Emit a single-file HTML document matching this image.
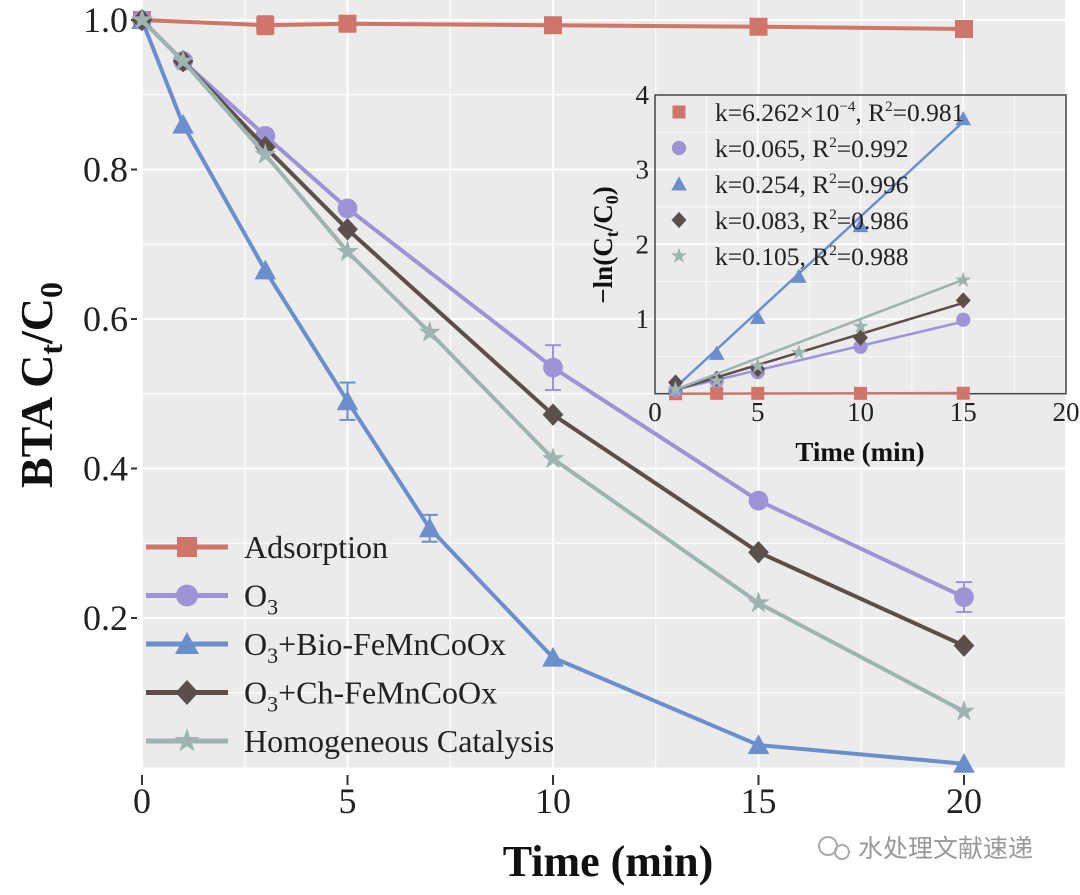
<!DOCTYPE html>
<html><head><meta charset="utf-8"><style>
html,body{margin:0;padding:0;background:#fff}
svg{display:block;font-family:"Liberation Serif",serif}
</style></head><body>
<svg id="c" width="1080" height="895" viewBox="0 0 1080 895" xmlns="http://www.w3.org/2000/svg"></svg>
<script>
// ---- main chart data ----
const mainSeriesNames = ["Adsorption","O3","O3+Bio-FeMnCoOx","O3+Ch-FeMnCoOx","Homogeneous Catalysis"];
const adsX = [0,3,5,10,15,20];
const adsY = [1.0,0.993,0.995,0.993,0.991,0.988];
const o3X = [0,1,3,5,10,15,20];
const o3Y = [1.0,0.945,0.845,0.748,0.535,0.357,0.228];
const bioX = [0,1,3,5,7,10,15,20];
const bioY = [1.0,0.86,0.665,0.49,0.32,0.147,0.03,0.005];
const chX = [0,1,3,5,10,15,20];
const chY = [1.0,0.945,0.83,0.72,0.472,0.288,0.163];
const homX = [0,1,3,5,7,10,15,20];
const homY = [1.0,0.945,0.82,0.69,0.582,0.413,0.22,0.075];
const errAds = [[3,0.993,0.012]];
const errO3 = [[10,0.535,0.03],[20,0.228,0.02]];
const errBio = [[5,0.49,0.025],[7,0.32,0.018]];
const xTicks = [0,5,10,15,20];
const yTicks = [0.2,0.4,0.6,0.8,1.0];
// ---- inset data ----
const inAdsX = [1,3,5,10,15];
const inAdsY = [0.0,0.005,0.005,0.005,0.006];
const inO3X = [1,3,5,10,15];
const inO3Y = [0.05,0.17,0.29,0.63,0.99];
const inBioX = [1,3,5,7,10,15];
const inBioY = [0.1,0.54,1.02,1.57,2.25,3.68];
const inChX = [1,3,5,10,15];
const inChY = [0.15,0.2,0.33,0.75,1.25];
const inHomX = [1,3,5,7,10,15];
const inHomY = [0.06,0.17,0.37,0.55,0.9,1.52];
const fitK = [0.0006262,0.065,0.254,0.083,0.105];
const fitB = [-0.0006,-0.01,-0.17,-0.03,-0.05];
const inXTicks = [0,5,10,15,20];
const inYTicks = [1,2,3,4];

const NS="http://www.w3.org/2000/svg";
const svg=document.getElementById('c');
function el(tag,attrs,parent){const e=document.createElementNS(NS,tag);for(const k in attrs)e.setAttribute(k,attrs[k]);(parent||svg).appendChild(e);return e;}
const colors=["#d0756a","#9d94d6","#6b8fcc","#5a4f4b","#9fb3b0"];
const markers=["square","circle","triangle","diamond","star"];

const X=v=>142+v*41.1;
const Y=v=>767.5-(v)*747.5;
const IX=v=>655+v*20.55;
const IY=v=>393.7-v*74.7;

function marker(g,type,cx,cy,s,color){
  let m;
  if(type==="square") m=el('rect',{x:cx-s,y:cy-s,width:2*s,height:2*s,fill:color},g);
  else if(type==="circle") m=el('circle',{cx:cx,cy:cy,r:s*1.1,fill:color},g);
  else if(type==="triangle") m=el('polygon',{points:`${cx},${cy-s*1.2} ${cx+s*1.2},${cy+s} ${cx-s*1.2},${cy+s}`,fill:color},g);
  else if(type==="diamond") m=el('polygon',{points:`${cx},${cy-s*1.25} ${cx+s*1.15},${cy} ${cx},${cy+s*1.25} ${cx-s*1.15},${cy}`,fill:color},g);
  else { let p=[];for(let i=0;i<10;i++){const r=i%2?s*0.5:s*1.3;const a=-Math.PI/2+i*Math.PI/5;p.push((cx+r*Math.cos(a)).toFixed(1)+','+(cy+r*Math.sin(a)).toFixed(1));}
    m=el('polygon',{points:p.join(' '),fill:color},g);}
  return m;
}

const bg=el('rect',{x:142,y:0,width:923,height:767.5,fill:"#ebebeb"});


const grid=el('g',{stroke:"#fff"});


for(let v=0;v<=22.5;v+=2.5){el('line',{x1:X(v),x2:X(v),y1:0,y2:767.5,'stroke-width':v%5===0?2:1},grid);}
for(let v=0.1;v<=1.05;v+=0.1){const major=Math.abs(Math.round(v*10)%2)===0;el('line',{x1:142,x2:1065,y1:Y(v),y2:Y(v),'stroke-width':major?2:1},grid);}

const axg=el('g',{});


xTicks.forEach(t=>{el('line',{x1:X(t),x2:X(t),y1:775,y2:785,stroke:"#333","stroke-width":2},axg);
  const tx=el('text',{x:X(t),y:813,'font-size':36,'text-anchor':'middle',fill:'#222'},axg);tx.textContent=t;
  
  });
yTicks.forEach(t=>{el('line',{x1:131,x2:137,y1:Y(t),y2:Y(t),stroke:"#333","stroke-width":2},axg);
  const tx=el('text',{x:128,y:Y(t)+12,'font-size':36,'text-anchor':'end',fill:'#222'},axg);tx.textContent=t.toFixed(1);
  
  });
const xt=el('text',{x:608,y:876,'font-size':44,'font-weight':'bold','text-anchor':'middle',fill:'#111'});
xt.textContent="Time (min)";


const yt=el('text',{transform:'translate(52,385) rotate(-90)','font-size':46,'font-weight':'bold','text-anchor':'middle',fill:'#111'});
yt.innerHTML='BTA C<tspan font-size="32" dy="10">t</tspan><tspan dy="-10">/C</tspan><tspan font-size="32" dy="10">0</tspan>';



const mainXs=[adsX,o3X,bioX,chX,homX], mainYs=[adsY,o3Y,bioY,chY,homY], errs=[errAds,errO3,errBio,[],[]];
mainXs.forEach((xs,i)=>{
  const g=el('g',{});
  
  
  el('polyline',{points:xs.map((x,j)=>X(x)+','+Y(mainYs[i][j])).join(' '),fill:'none',stroke:colors[i],'stroke-width':4,'stroke-linejoin':'round'},g);
  errs[i].forEach(e=>{const x=X(e[0]),y1=Y(e[1]+e[2]),y2=Y(e[1]-e[2]);
    el('line',{x1:x,x2:x,y1:y1,y2:y2,stroke:colors[i],'stroke-width':2},g);
    el('line',{x1:x-8,x2:x+8,y1:y1,y2:y1,stroke:colors[i],'stroke-width':2},g);
    el('line',{x1:x-8,x2:x+8,y1:y2,y2:y2,stroke:colors[i],'stroke-width':2},g);});
  xs.forEach((x,j)=>{const m=marker(g,markers[i],X(x),Y(mainYs[i][j]),9,colors[i]);
    
    });
});

const lg=el('g',{});


const legLabels=['Adsorption','O<tspan font-size="22" dy="8">3</tspan>','O<tspan font-size="22" dy="8">3</tspan><tspan dy="-8">+Bio-FeMnCoOx</tspan>','O<tspan font-size="22" dy="8">3</tspan><tspan dy="-8">+Ch-FeMnCoOx</tspan>','Homogeneous Catalysis'];
legLabels.forEach((l,i)=>{const y=547+i*48.5;
  const e=el('g',{},lg);
  
  
  el('line',{x1:146,x2:228,y1:y,y2:y,stroke:colors[i],'stroke-width':5},e);
  marker(e,markers[i],187,y,10,colors[i]);
  const t=el('text',{x:244,y:y+11,'font-size':32,fill:'#222'},e);t.innerHTML=l;});

const ig=el('g',{});


el('rect',{x:655,y:95,width:411,height:298.7,fill:'#ebebeb'},ig);
for(let v=2.5;v<20;v+=2.5) el('line',{x1:IX(v),x2:IX(v),y1:95,y2:393.7,stroke:'#fff','stroke-width':v%5===0?1.5:0.8},ig);
for(let v=0.5;v<4;v+=0.5) el('line',{x1:655,x2:1066,y1:IY(v),y2:IY(v),stroke:'#fff','stroke-width':v%1===0?1.5:0.8},ig);
el('rect',{x:655,y:95,width:411,height:298.7,fill:'none',stroke:'#444','stroke-width':1.5},ig);
inXTicks.forEach(t=>{const tx=el('text',{x:IX(t),y:421,'font-size':27,'text-anchor':'middle',fill:'#222'},ig);tx.textContent=t;
  
  });
inYTicks.forEach(t=>{const tx=el('text',{x:649,y:IY(t)+9,'font-size':27,'text-anchor':'end',fill:'#222'},ig);tx.textContent=t;
  
  });
const ixt=el('text',{x:860,y:461,'font-size':27,'font-weight':'bold','text-anchor':'middle',fill:'#111'},ig);
ixt.textContent="Time (min)";


const iyt=el('text',{transform:'translate(612,245) rotate(-90)','font-size':27,'font-weight':'bold','text-anchor':'middle',fill:'#111'},ig);
iyt.innerHTML='−ln(C<tspan font-size="18" dy="6">t</tspan><tspan dy="-6">/C</tspan><tspan font-size="18" dy="6">0</tspan><tspan dy="-6">)</tspan>';


const inXs=[inAdsX,inO3X,inBioX,inChX,inHomX], inYs=[inAdsY,inO3Y,inBioY,inChY,inHomY];
inXs.forEach((xs,i)=>{
  const g=el('g',{},ig);
  
  
  const y0=Math.max(0,fitK[i]*1+fitB[i]), y1=fitK[i]*15+fitB[i];
  el('line',{x1:IX(1),y1:IY(y0),x2:IX(15),y2:IY(Math.max(0,y1)),stroke:colors[i],'stroke-width':2.5},g);
  xs.forEach((x,j)=>{const m=marker(g,markers[i],IX(x),IY(inYs[i][j]),6.5,colors[i]);
    
    });
});
const inLeg=['k=6.262×10<tspan font-size="15" dy="-10">−4</tspan><tspan dy="10">, R</tspan><tspan font-size="15" dy="-10">2</tspan><tspan dy="10">=0.981</tspan>',
 'k=0.065, R<tspan font-size="15" dy="-10">2</tspan><tspan dy="10">=0.992</tspan>',
 'k=0.254, R<tspan font-size="15" dy="-10">2</tspan><tspan dy="10">=0.996</tspan>',
 'k=0.083, R<tspan font-size="15" dy="-10">2</tspan><tspan dy="10">=0.986</tspan>',
 'k=0.105, R<tspan font-size="15" dy="-10">2</tspan><tspan dy="10">=0.988</tspan>'];
inLeg.forEach((l,i)=>{const y=112+i*36;
  const e=el('g',{},ig);
  
  
  marker(e,markers[i],679,y,6.5,colors[i]);
  const t=el('text',{x:715,y:y+9,'font-size':25.5,fill:'#222'},e);t.innerHTML=l;});

const wm=el('g',{});


el('circle',{cx:828,cy:846,r:9,fill:'none',stroke:'#aaa','stroke-width':2},wm);
el('circle',{cx:842,cy:852,r:7,fill:'none',stroke:'#aaa','stroke-width':2},wm);
const wt=el('text',{x:858,y:857,'font-size':25,fill:'#999','font-family':'"Liberation Sans","Noto Sans CJK SC",sans-serif'},wm);
wt.textContent="水处理文献速递";
</script>
</body></html>
